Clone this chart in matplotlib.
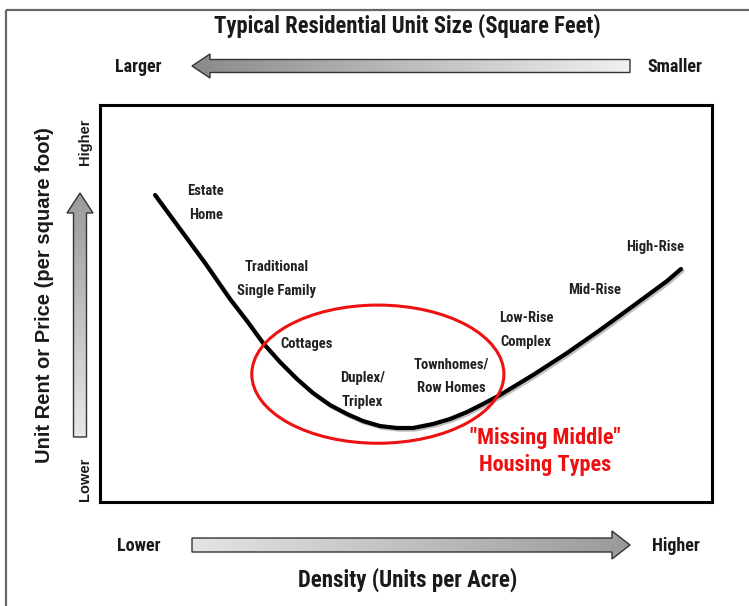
import numpy as np
import matplotlib
matplotlib.use("Agg")
import matplotlib.pyplot as plt
from matplotlib.patches import Polygon, Ellipse
import matplotlib.patheffects as pe

# ---- data (density 0-100, price 0-100) ----
density = [8.99, 13.07, 17.16, 21.24, 24.02, 26.63, 29.41, 32.19, 34.80, 37.58,
           40.36, 42.97, 45.75, 48.53, 51.14, 54.41, 57.19, 59.97, 62.58, 65.36,
           70.75, 76.31, 81.70, 87.09, 92.65, 94.93]
price = [77.33, 68.77, 60.20, 51.13, 45.59, 40.05, 35.26, 30.98, 27.46, 24.43,
         22.17, 20.40, 19.14, 18.64, 18.64, 19.65, 20.91, 22.67, 24.69, 26.95,
         31.99, 37.53, 43.32, 49.37, 55.67, 58.69]

housing_types = ["Estate\nHome", "Traditional\nSingle Family", "Cottages",
                 "Duplex/\nTriplex", "Townhomes/\nRow Homes", "Low-Rise\nComplex",
                 "Mid-Rise", "High-Rise"]
type_x = [17.3, 28.9, 33.7, 42.9, 57.4, 69.6, 80.9, 90.7]
type_y = [75.3, 56.2, 39.8, 28.2, 31.7, 43.3, 53.4, 64.2]

missing_center = (45.4, 32.2)
missing_size = (41.2, 34.8)
missing_label = '"Missing Middle"\nHousing Types'
missing_label_xy = (72.7, 12.8)

title_top = "Typical Residential Unit Size (Square Feet)"
title_bottom = "Density (Units per Acre)"
ylabel = "Unit Rent or Price (per square foot)"

NARROW = dict(family=['Roboto Condensed', 'DejaVu Sans'], fontstretch='condensed',
              fontweight='bold')
WIDE = dict(family=['Liberation Sans', 'DejaVu Sans'], fontweight='bold')

W, H = 749, 606
fig = plt.figure(figsize=(W / 100, H / 100), dpi=100)

# overlay in pixel coordinates
ov = fig.add_axes([0, 0, 1, 1], zorder=0)
ov.set_xlim(0, W)
ov.set_ylim(H, 0)
ov.axis('off')

# outer frame fragments
ov.plot([6, W], [10, 10], color='#666666', lw=1.6, solid_capstyle='butt')
ov.plot([6, 6], [10, H], color='#666666', lw=1.6, solid_capstyle='butt')


def gradient_arrow(ax, pts, c0, c1, direction):
    poly = Polygon(pts, closed=True, facecolor='none', edgecolor='#333333', lw=1.0, zorder=3)
    ax.add_patch(poly)
    xs = [p[0] for p in pts]
    ys = [p[1] for p in pts]
    if direction == 'h':
        g = np.linspace(0, 1, 256)[None, :]
    else:
        g = np.linspace(0, 1, 256)[:, None]
    cmap = matplotlib.colors.LinearSegmentedColormap.from_list('g', [c0, c1])
    im = ax.imshow(g, cmap=cmap, extent=(min(xs), max(xs), max(ys), min(ys)),
                   aspect='auto', zorder=2, interpolation='bilinear')
    im.set_clip_path(poly)


def harrow(x_tip, x_tail, y, h, hh, L):
    s = 1 if x_tail > x_tip else -1
    xb = x_tip + s * L
    return [(x_tip, y), (xb, y - hh), (xb, y - h), (x_tail, y - h),
            (x_tail, y + h), (xb, y + h), (xb, y + hh)]


def varrow(y_tip, y_tail, x, h, hh, L):
    yb = y_tip + L
    return [(x, y_tip), (x + hh, yb), (x + h, yb), (x + h, y_tail),
            (x - h, y_tail), (x - h, yb), (x - hh, yb)]


# top arrow (pointing left)
gradient_arrow(ov, harrow(192, 630, 66, 6.5, 12, 18), '#8a8a8a', '#f0f0f0', 'h')
# bottom arrow (pointing right)
gradient_arrow(ov, harrow(630, 192, 545, 7, 14, 18), '#e4e4e4', '#9a9a9a', 'h')
# left arrow (pointing up)
gradient_arrow(ov, varrow(193, 437, 80, 6.5, 13, 20), '#9a9a9a', '#e8e8e8', 'v')

tc = '#1a1a1a'
ov.text(407, 26, title_top, ha='center', va='center', fontsize=16.3, color=tc, **NARROW)
ov.text(138, 67, "Larger", ha='center', va='center', fontsize=13, color=tc, **NARROW)
ov.text(675, 67, "Smaller", ha='center', va='center', fontsize=13, color=tc, **NARROW)
ov.text(139, 546, "Lower", ha='center', va='center', fontsize=13, color=tc, **NARROW)
ov.text(676, 546, "Higher", ha='center', va='center', fontsize=13, color=tc, **NARROW)
ov.text(408, 580, title_bottom, ha='center', va='center', fontsize=16.5, color=tc, **NARROW)
ov.text(45, 295, ylabel, ha='center', va='center', rotation=90, fontsize=14.5,
        color=tc, **WIDE)
ov.text(85, 142, "Higher", ha='center', va='center', rotation=90, fontsize=10.5,
        color=tc, **WIDE)
ov.text(85, 479, "Lower", ha='center', va='center', rotation=90, fontsize=10.5,
        color=tc, **WIDE)

# main chart box
ax = fig.add_axes([100 / W, (H - 502) / H, 612 / W, 397 / H], zorder=1)
ax.set_xlim(0, 100)
ax.set_ylim(0, 100)
ax.set_xticks([])
ax.set_yticks([])
for sp in ax.spines.values():
    sp.set_linewidth(2.2)
    sp.set_color('black')
ax.patch.set_facecolor('white')

ax.plot(density, price, color='black', lw=3.0, solid_capstyle='round',
        solid_joinstyle='round',
        path_effects=[pe.SimpleLineShadow(offset=(1.2, -1.2), shadow_color='gray', alpha=0.5),
                      pe.Normal()], zorder=3)

ax.add_patch(Ellipse(missing_center, missing_size[0], missing_size[1], fill=False,
                     edgecolor='#ee1111', lw=2.2, zorder=4))

for lab, x, y in zip(housing_types, type_x, type_y):
    ax.text(x, y, lab, ha='center', va='center', fontsize=10.5,
            color='#222222', linespacing=1.85, zorder=5, **NARROW)

ax.text(missing_label_xy[0], missing_label_xy[1], missing_label, ha='center', va='center',
        fontsize=16, color='#ee1111', linespacing=1.3, zorder=5, **NARROW)

fig.savefig('out.png', dpi=100)
